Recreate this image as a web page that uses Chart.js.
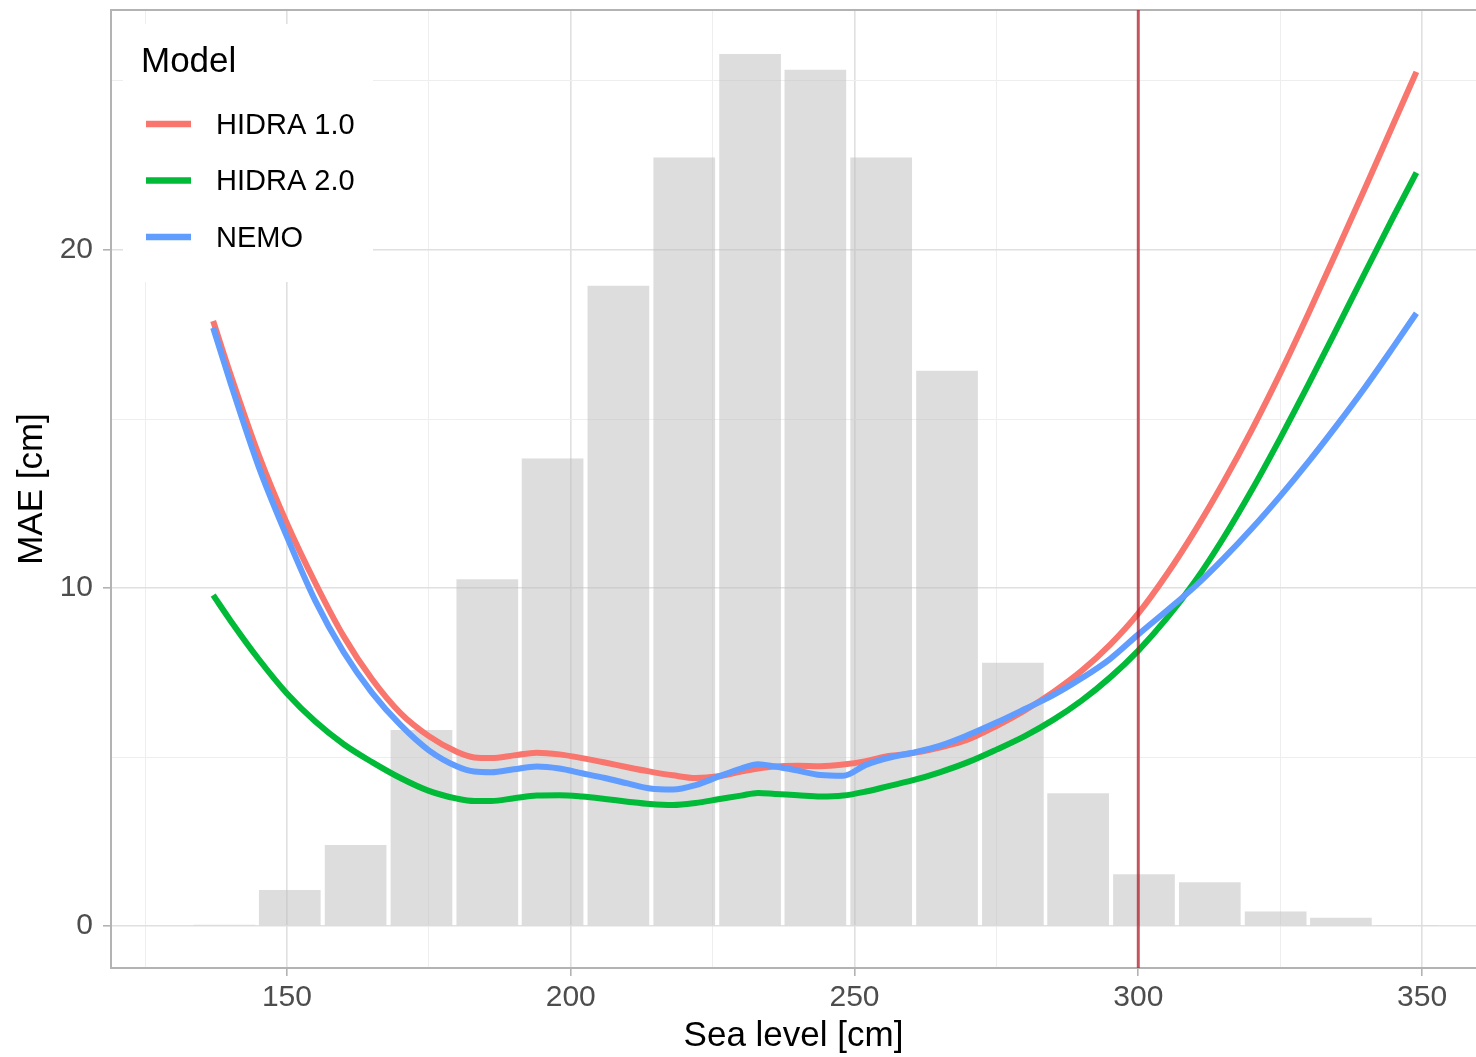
<!DOCTYPE html>
<html>
<head>
<meta charset="utf-8">
<title>MAE vs sea level</title>
<script src="https://cdn.jsdelivr.net/npm/chart.js@4.4.1/dist/chart.umd.min.js"></script>
<style>
  html, body { margin: 0; padding: 0; background: #fff; }
  #wrap { width: 1476px; height: 1057px; }
</style>
</head>
<body>
<div id="wrap"><canvas id="maeChart" width="1476" height="1057"></canvas></div>
<script>
/* --------------------------------------------------------------- */
/* data */

// sea level (cm) at which the curves were read
var seaLevel = [137, 140, 145, 150, 155, 160, 165, 170, 175, 180, 183, 186, 190, 194, 198,
                202, 206, 210, 214, 218, 222, 226, 230, 233, 236, 240, 244, 248, 252, 256,
                260, 265, 270, 275, 280, 285, 290, 295, 300, 305, 310, 315, 320, 325, 330,
                335, 340, 345, 349];

// MAE [cm] per model
var hidra1 = [17.9, 16.35, 13.95, 11.91, 10.15, 8.57, 7.3, 6.3, 5.62, 5.15, 4.99, 4.97, 5.05, 5.13, 5.08,
              4.97, 4.84, 4.7, 4.57, 4.46, 4.38, 4.43, 4.57, 4.66, 4.72, 4.74, 4.73, 4.78, 4.88, 5.03,
              5.11, 5.28, 5.52, 5.92, 6.38, 6.92, 7.55, 8.32, 9.25, 10.4, 11.7, 13.13, 14.68, 16.35, 18.13,
              19.98, 21.85, 23.75, 25.27];
var hidra2 = [9.79, 9.05, 7.9, 6.88, 6.05, 5.38, 4.85, 4.38, 4.0, 3.77, 3.7, 3.7, 3.78, 3.86, 3.87,
              3.83, 3.76, 3.68, 3.61, 3.58, 3.64, 3.75, 3.86, 3.94, 3.91, 3.87, 3.83, 3.86, 3.98, 4.14,
              4.3, 4.55, 4.85, 5.22, 5.62, 6.1, 6.67, 7.35, 8.15, 9.1, 10.2, 11.48, 12.9, 14.43, 16.03,
              17.68, 19.35, 21.0, 22.29];
var nemo   = [17.7, 16.1, 13.6, 11.52, 9.62, 8.1, 6.9, 5.95, 5.2, 4.72, 4.57, 4.55, 4.64, 4.72, 4.66,
              4.52, 4.38, 4.22, 4.07, 4.04, 4.17, 4.42, 4.66, 4.79, 4.72, 4.6, 4.47, 4.45, 4.77, 4.98,
              5.12, 5.33, 5.65, 6.02, 6.42, 6.83, 7.33, 7.9, 8.63, 9.33, 10.05, 10.87, 11.76, 12.72, 13.74,
              14.82, 15.95, 17.15, 18.13];

// histogram of observed sea levels (bin centre in cm, height drawn on the MAE axis)
var binCentre = [139.0, 150.5, 162.1, 173.7, 185.3, 196.8, 208.4, 220.0, 231.6, 243.1,
                 254.7, 266.3, 277.9, 289.4, 301.0, 312.6, 324.2, 335.7, 347.3];
var binHeight = [0.04, 1.07, 2.40, 5.80, 10.26, 13.83, 18.94, 22.74, 25.80, 25.33,
                 22.74, 16.43, 7.79, 3.93, 1.53, 1.30, 0.43, 0.25, 0.03];

var xTickLabels = [150, 200, 250, 300, 350];
var yTickLabels = [0, 10, 20];
var thresholdLevel = 300;

/* --------------------------------------------------------------- */

Chart.defaults.font.family = '"Liberation Sans", Arial, sans-serif';

function toPoints(xs, ys) {
    return xs.map(function (x, i) { return { x: x, y: ys[i] }; });
}

function isMajor(c) {
    if (!c.tick) return false;
    var labels = c.scale.axis === 'x' ? xTickLabels : yTickLabels;
    return labels.indexOf(c.tick.value) >= 0;
}

function lineSet(label, values, colour, order) {
    return {
        type: 'line',
        label: label,
        data: toPoints(seaLevel, values),
        borderColor: colour,
        borderWidth: 6,
        pointRadius: 0,
        fill: false,
        cubicInterpolationMode: 'monotone',
        order: order
    };
}

// legend box, panel frame and the 300 cm marker
var ggDecor = {
    id: 'ggDecor',
    beforeDatasetsDraw: function (chart) {
        var ctx = chart.ctx, a = chart.chartArea;
        ctx.save();
        ctx.fillStyle = '#ffffff';
        ctx.fillRect(a.left + 12, a.top + 14, 250, 258);

        ctx.fillStyle = '#000000';
        ctx.textBaseline = 'alphabetic';
        ctx.font = '35px "Liberation Sans", Arial, sans-serif';
        ctx.fillText('Model', a.left + 30, a.top + 62);

        ctx.font = '29px "Liberation Sans", Arial, sans-serif';
        ctx.textBaseline = 'middle';
        var lines = chart.data.datasets.filter(function (d) { return d.type === 'line'; });
        lines.forEach(function (d, i) {
            var y = a.top + 114.5 + i * 56.5;
            ctx.strokeStyle = d.borderColor;
            ctx.lineWidth = 6.5;
            ctx.beginPath();
            ctx.moveTo(a.left + 35, y - 0.5);
            ctx.lineTo(a.left + 80, y - 0.5);
            ctx.stroke();
            ctx.fillText(d.label, a.left + 105, y + 1);
        });

        ctx.strokeStyle = '#b3b3b3';
        ctx.lineWidth = 2;
        ctx.strokeRect(a.left, a.top, a.right - a.left + 4, a.bottom - a.top);
        ctx.restore();
    },
    afterDatasetsDraw: function (chart) {
        var ctx = chart.ctx, a = chart.chartArea;
        var x = chart.scales.x.getPixelForValue(thresholdLevel);
        ctx.save();
        ctx.strokeStyle = 'rgba(180, 20, 35, 0.7)';
        ctx.lineWidth = 3;
        ctx.beginPath();
        ctx.moveTo(x, a.top);
        ctx.lineTo(x, a.bottom);
        ctx.stroke();
        ctx.restore();
    }
};

var gridOpts = {
    offset: false,
    color: function (c) { return isMajor(c) ? '#e0e0e0' : '#eeeeee'; },
    lineWidth: function (c) { return isMajor(c) ? 1.6 : 1; },
    tickColor: function (c) { return isMajor(c) ? '#b3b3b3' : 'rgba(0,0,0,0)'; },
    tickWidth: 1.6,
    tickLength: 8
};

var ctx = document.getElementById('maeChart').getContext('2d');
var maeChart = new Chart(ctx, {
    type: 'line',
    data: {
        datasets: [
            lineSet('HIDRA 1.0', hidra1, '#F8766D', 3),
            lineSet('HIDRA 2.0', hidra2, '#00BA38', 2),
            lineSet('NEMO', nemo, '#619CFF', 1),
            {
                type: 'bar',
                label: 'Sea level count',
                data: toPoints(binCentre, binHeight),
                backgroundColor: 'rgba(190, 190, 190, 0.52)',
                borderWidth: 0,
                barPercentage: 1,
                categoryPercentage: 0.945,
                order: 10
            }
        ]
    },
    options: {
        responsive: false,
        animation: false,
        layout: { padding: { top: 10, right: 0, bottom: 0, left: 0 } },
        scales: {
            x: {
                type: 'linear',
                min: 119,
                max: 359.5,
                offset: false,
                afterFit: function (s) {
                    s.height = 89;
                    s.paddingLeft = 0;
                    s.paddingRight = 0;
                },
                grid: gridOpts,
                border: { display: false },
                ticks: {
                    stepSize: 25,
                    maxTicksLimit: 100,
                    includeBounds: false,
                    autoSkip: false,
                    maxRotation: 0,
                    padding: 3.5,
                    color: '#4d4d4d',
                    font: { size: 30 },
                    callback: function (v) { return xTickLabels.indexOf(v) >= 0 ? String(v) : ''; }
                },
                title: {
                    display: true,
                    text: 'Sea level [cm]',
                    color: '#000000',
                    font: { size: 35, lineHeight: 1 },
                    padding: { top: 0, bottom: 3.5 }
                }
            },
            y: {
                type: 'linear',
                min: -1.24,
                max: 27.1,
                afterFit: function (s) {
                    s.width = 111;
                    s.paddingTop = 0;
                    s.paddingBottom = 0;
                },
                grid: gridOpts,
                border: { display: false },
                ticks: {
                    stepSize: 5,
                    maxTicksLimit: 100,
                    includeBounds: false,
                    autoSkip: false,
                    padding: 10,
                    color: '#4d4d4d',
                    font: { size: 30 },
                    callback: function (v) { return yTickLabels.indexOf(v) >= 0 ? String(v) : ''; }
                },
                title: {
                    display: true,
                    text: 'MAE [cm]',
                    color: '#000000',
                    font: { size: 35, lineHeight: 1 },
                    padding: { top: 14.5, bottom: 0 }
                }
            }
        },
        plugins: {
            legend: { display: false },
            tooltip: { enabled: false }
        }
    },
    plugins: [ggDecor]
});
</script>
</body>
</html>
